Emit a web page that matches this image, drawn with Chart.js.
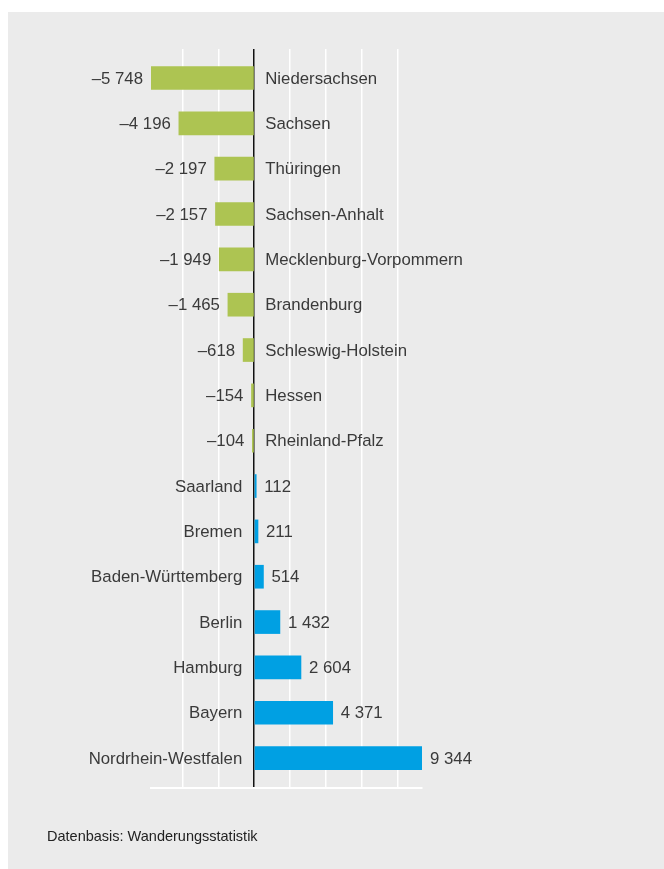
<!DOCTYPE html>
<html>
<head>
<meta charset="UTF-8">
<script src="https://cdn.jsdelivr.net/npm/chart.js@4"></script>
<style>
  body { margin: 0; background: #fff; }
  .panel { position: absolute; left: 8px; top: 12px; width: 656px; height: 857px; background: #ebebeb; }
  #chart { position: absolute; left: 0; top: 0; }
  .note { position: absolute; left: 47px; top: 828px; font: 14.5px "Liberation Sans", Arial, sans-serif; color: #222; }
</style>
</head>
<body>
<div class="panel"></div>
<canvas id="chart" width="664" height="869"></canvas>
<div class="note">Datenbasis: Wanderungsstatistik</div>
<script>
// Daten
const laender = ['Niedersachsen', 'Sachsen', 'Thüringen', 'Sachsen-Anhalt', 'Mecklenburg-Vorpommern',
  'Brandenburg', 'Schleswig-Holstein', 'Hessen', 'Rheinland-Pfalz', 'Saarland', 'Bremen',
  'Baden-Württemberg', 'Berlin', 'Hamburg', 'Bayern', 'Nordrhein-Westfalen'];
const saldo = [-5748, -4196, -2197, -2157, -1949, -1465, -618, -154, -104, 112, 211, 514, 1432, 2604, 4371, 9344];
const gridTicks = [-4000, -2000, 0, 2000, 4000, 6000, 8000];

const fmt = v => (v < 0 ? '\u2013' : '') + Math.abs(v).toString().replace(/\B(?=(\d{3})+(?!\d))/g, ' ');

// Beschriftungen neben den Balken
const labelPlugin = {
  id: 'labels',
  afterDatasetsDraw(chart) {
    const { ctx, scales: { x, y } } = chart;
    const x0 = x.getPixelForValue(0);
    ctx.save();
    ctx.font = '16.8px "Liberation Sans", Arial, sans-serif';
    ctx.fillStyle = '#3a3a3a';
    ctx.textBaseline = 'middle';
    saldo.forEach((v, i) => {
      const py = y.getPixelForValue(i) + 1;
      const px = x.getPixelForValue(v);
      if (v < 0) {
        ctx.textAlign = 'right';
        ctx.fillText(fmt(v), px - 8, py);
        ctx.textAlign = 'left';
        ctx.fillText(laender[i], x0 + 11, py);
      } else {
        ctx.textAlign = 'right';
        ctx.fillText(laender[i], x0 - 12, py);
        ctx.textAlign = 'left';
        ctx.fillText(fmt(v), px + 8, py);
      }
    });
    ctx.restore();
  }
};

new Chart(document.getElementById('chart'), {
  type: 'bar',
  data: {
    datasets: [{
      data: saldo.map((v, i) => ({ x: v, y: i })),
      backgroundColor: saldo.map(v => v < 0 ? '#adc452' : '#00a0e3'),
      barThickness: 23,
      borderWidth: 0
    }]
  },
  options: {
    indexAxis: 'y',
    responsive: false,
    animation: false,
    layout: { padding: { left: 151, right: 242, top: 49, bottom: 81 } },
    plugins: { legend: { display: false }, tooltip: { enabled: false } },
    scales: {
      x: {
        type: 'linear',
        min: -5748,
        max: 9344,
        afterBuildTicks: s => { s.ticks = gridTicks.map(v => ({ value: v })); },
        ticks: { display: false },
        grid: {
          drawTicks: false,
          color: c => c.tick && c.tick.value === 0 ? '#111' : '#fff',
          lineWidth: 1.5
        },
        border: { color: '#fff', width: 2 }
      },
      y: {
        type: 'linear',
        display: false,
        reverse: true,
        offset: false,
        min: -0.64,
        max: 15.66
      }
    }
  },
  plugins: [labelPlugin]
});
</script>
</body>
</html>
